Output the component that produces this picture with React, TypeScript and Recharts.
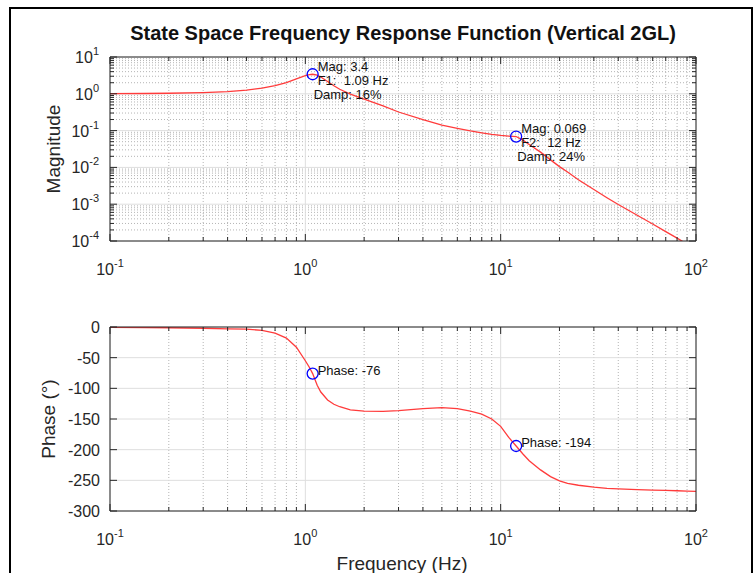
import { ComposedChart, Line, Scatter, XAxis, YAxis, CartesianGrid } from 'recharts'

// frequency grid (Hz)
const freq = [
  0.1, 0.15, 0.2, 0.3, 0.4, 0.5, 0.6, 0.7, 0.8, 0.9, 1.0, 1.05, 1.09, 1.15, 1.2, 1.3, 1.4, 1.5, 1.7, 2, 2.5,
  3, 4, 5, 6, 7, 8, 9, 10, 11, 12, 13, 14, 16, 18, 20, 22, 25, 30, 35, 40, 50, 60, 70, 80, 90, 100,
]
const magnitude = [
  1.01, 1.02, 1.035, 1.08, 1.15, 1.26, 1.42, 1.66, 2.0, 2.55, 3.1, 3.3, 3.4, 3.2, 2.85, 2.15, 1.65, 1.33, 0.98,
  0.72, 0.47, 0.32, 0.2, 0.14, 0.115, 0.098, 0.087, 0.079, 0.074, 0.071, 0.069, 0.055, 0.042, 0.026, 0.016,
  0.0105, 0.0075, 0.0046, 0.0025, 0.0015, 0.00098, 0.0005, 0.00029, 0.00018, 0.00012, 0.000082, 0.000058,
]
const phase = [
  -0.5, -0.8, -1.2, -2, -3, -3.5, -5.5, -10, -18, -33, -55, -66, -76, -95, -106, -119, -126, -130, -135, -137,
  -137.5, -136.5, -133, -131.5, -133, -137, -142, -150, -162, -180, -194, -207, -218, -233, -244, -251, -255,
  -258, -261, -263, -264, -265, -266, -266.5, -267, -267.5, -268,
]

const modeFreq = [1.09, 12]
const modeMag = [3.4, 0.069]
const modePhase = [-76, -194]
const modeText = [
  ['Mag: 3.4', 'F1:  1.09 Hz', 'Damp: 16%'],
  ['Mag: 0.069', 'F2:  12 Hz', 'Damp: 24%'],
]
const phaseText = ['Phase: -76', 'Phase: -194']

const decadeTicks = [0.1, 1, 10, 100]
const freqMinor = [0.2, 0.3, 0.4, 0.5, 0.6, 0.7, 0.8, 0.9, 2, 3, 4, 5, 6, 7, 8, 9, 20, 30, 40, 50, 60, 70, 80, 90]
const magTicks = [1e-4, 1e-3, 1e-2, 1e-1, 1, 10]
const magMinor = [1e-4, 1e-3, 1e-2, 1e-1, 1].flatMap((d) => [2, 3, 4, 5, 6, 7, 8, 9].map((k) => k * d))
const phaseTicks = [-300, -250, -200, -150, -100, -50, 0]

const magData = freq.map((f, i) => ({ f, v: magnitude[i] }))
const phaseData = freq.map((f, i) => ({ f, v: phase[i] }))
const magModes = modeFreq.map((f, i) => ({ f, v: modeMag[i], lines: modeText[i] }))
const phaseModes = modeFreq.map((f, i) => ({ f, v: modePhase[i], lines: [phaseText[i]] }))

const xAll = [...decadeTicks, ...freqMinor].sort((a, b) => a - b)
const magAll = [...magTicks, ...magMinor].sort((a, b) => a - b)

const FONT = '"Liberation Sans", Arial, Helvetica, sans-serif'
const AXIS = '#262626'
const RED = '#ff3b3b'
const BLUE = '#0000ff'

const isMajor = (v: number, majors: number[]) => majors.some((m) => Math.abs(m - v) < Math.abs(m) * 1e-6 + 1e-9)

function Pow10({ x, y, exp, anchor }: { x: number; y: number; exp: number; anchor: 'middle' | 'end' }) {
  return (
    <text x={x} y={y} textAnchor={anchor} fontSize={16} fill={AXIS} fontFamily={FONT}>
      10
      <tspan dy={-8} fontSize={11}>
        {exp}
      </tspan>
    </text>
  )
}

function XTick(props: any) {
  const { x, y, payload, side, label } = props
  const v = payload.value
  const major = isMajor(v, decadeTicks)
  const len = major ? 7 : 4
  const y2 = side === 'bottom' ? y - len : y + len
  return (
    <g>
      <line x1={x} x2={x} y1={y} y2={y2} stroke={AXIS} />
      {label && major ? <Pow10 x={x} y={y + 34} exp={Math.round(Math.log10(v))} anchor="middle" /> : null}
    </g>
  )
}

function MagYTick(props: any) {
  const { x, y, payload, side } = props
  const v = payload.value
  const major = isMajor(v, magTicks)
  const len = major ? 7 : 4
  const x2 = side === 'left' ? x + len : x - len
  return (
    <g>
      <line x1={x} x2={x2} y1={y} y2={y} stroke={AXIS} />
      {side === 'left' && major ? <Pow10 x={x - 11} y={y + 6} exp={Math.round(Math.log10(v))} anchor="end" /> : null}
    </g>
  )
}

function PhaseYTick(props: any) {
  const { x, y, payload, side } = props
  const x2 = side === 'left' ? x + 7 : x - 7
  return (
    <g>
      <line x1={x} x2={x2} y1={y} y2={y} stroke={AXIS} />
      {side === 'left' ? (
        <text x={x - 10} y={y + 6} textAnchor="end" fontSize={16} fill={AXIS} fontFamily={FONT}>
          {payload.value}
        </text>
      ) : null}
    </g>
  )
}

function ModeMarker(props: any) {
  const { cx, cy, payload, offsets } = props
  return (
    <g>
      <circle cx={cx} cy={cy} r={5.5} fill="none" stroke={BLUE} strokeWidth={1.3} />
      {payload.lines.map((t: string, i: number) => (
        <text
          key={i}
          x={cx + offsets[i][0]}
          y={cy + offsets[i][1]}
          dominantBaseline="central"
          fontSize={13}
          fill="#111"
          fontFamily={FONT}
          style={{ whiteSpace: 'pre' }}
        >
          {t}
        </text>
      ))}
    </g>
  )
}

const magOffsets = [
  [5, -8],
  [5, 6],
  [1, 20],
]
const phaseOffsets = [[5, -3]]

const axisLine = { stroke: AXIS, strokeWidth: 1 }

export default function App() {
  return (
    <div style={{ position: 'absolute', left: 0, top: 0, width: 755, height: 573, background: '#fff', overflow: 'hidden' }}>
      <svg width={755} height={573} style={{ position: 'absolute', left: 0, top: 0 }}>
        <rect x={10} y={8} width={742} height={600} fill="none" stroke="#000" strokeWidth={2} />
        <text x={403} y={40} textAnchor="middle" fontSize={20} fontWeight="bold" fill="#111" fontFamily={FONT}>
          State Space Frequency Response Function (Vertical 2GL)
        </text>
        <text
          x={53}
          y={149}
          transform="rotate(-90 53 149)"
          textAnchor="middle"
          dominantBaseline="central"
          fontSize={19}
          fill={AXIS}
          fontFamily={FONT}
        >
          Magnitude
        </text>
        <text
          x={48}
          y={419}
          transform="rotate(-90 48 419)"
          textAnchor="middle"
          dominantBaseline="central"
          fontSize={19}
          fill={AXIS}
          fontFamily={FONT}
        >
          Phase (°)
        </text>
        <text x={402} y={570} textAnchor="middle" fontSize={19} fill={AXIS} fontFamily={FONT}>
          Frequency (Hz)
        </text>
      </svg>

      <div style={{ position: 'absolute', left: 0, top: 0 }}>
        <ComposedChart width={755} height={300} margin={{ top: 56, right: 58, bottom: 19, left: 50 }}>
          <CartesianGrid
            horizontalValues={magMinor}
            verticalValues={freqMinor}
            stroke="#b4b4b4"
            strokeDasharray="1 2"
          />
          <CartesianGrid horizontalValues={magTicks} verticalValues={decadeTicks} stroke="#dedede" />
          <XAxis
            dataKey="f"
            type="number"
            scale="log"
            domain={[0.1, 100]}
            allowDataOverflow
            ticks={xAll}
            interval={0}
            height={40}
            tickSize={0}
            tickMargin={0}
            axisLine={axisLine}
            tickLine={false}
            tick={(p: any) => <XTick {...p} side="bottom" label />}
          />
          <XAxis
            xAxisId="top"
            orientation="top"
            dataKey="f"
            type="number"
            scale="log"
            domain={[0.1, 100]}
            allowDataOverflow
            ticks={xAll}
            interval={0}
            height={1}
            tickSize={0}
            tickMargin={0}
            axisLine={axisLine}
            tickLine={false}
            tick={(p: any) => <XTick {...p} side="top" />}
          />
          <YAxis
            dataKey="v"
            type="number"
            scale="log"
            domain={[1e-4, 10]}
            allowDataOverflow
            ticks={magAll}
            interval={0}
            width={60}
            tickSize={0}
            tickMargin={0}
            axisLine={axisLine}
            tickLine={false}
            tick={(p: any) => <MagYTick {...p} side="left" />}
          />
          <YAxis
            yAxisId="right"
            orientation="right"
            type="number"
            scale="log"
            domain={[1e-4, 10]}
            allowDataOverflow
            ticks={magAll}
            interval={0}
            width={1}
            tickSize={0}
            tickMargin={0}
            axisLine={axisLine}
            tickLine={false}
            tick={(p: any) => <MagYTick {...p} side="right" />}
          />
          <Line
            data={magData}
            xAxisId="top"
            yAxisId="right"
            dataKey="v"
            stroke="none"
            dot={false}
            isAnimationActive={false}
          />
          <Line data={magData} dataKey="v" stroke={RED} strokeWidth={1.3} dot={false} isAnimationActive={false} />
          <Scatter
            data={magModes}
            dataKey="v"
            isAnimationActive={false}
            shape={(p: any) => <ModeMarker {...p} offsets={magOffsets} />}
          />
        </ComposedChart>
      </div>

      <div style={{ position: 'absolute', left: 0, top: 300 }}>
        <ComposedChart width={755} height={273} margin={{ top: 26, right: 58, bottom: 22, left: 50 }}>
          <CartesianGrid horizontal={false} verticalValues={freqMinor} stroke="#b4b4b4" strokeDasharray="1 2" />
          <CartesianGrid horizontalValues={phaseTicks} verticalValues={decadeTicks} stroke="#dedede" />
          <XAxis
            dataKey="f"
            type="number"
            scale="log"
            domain={[0.1, 100]}
            allowDataOverflow
            ticks={xAll}
            interval={0}
            height={40}
            tickSize={0}
            tickMargin={0}
            axisLine={axisLine}
            tickLine={false}
            tick={(p: any) => <XTick {...p} side="bottom" label />}
          />
          <XAxis
            xAxisId="top"
            orientation="top"
            dataKey="f"
            type="number"
            scale="log"
            domain={[0.1, 100]}
            allowDataOverflow
            ticks={xAll}
            interval={0}
            height={1}
            tickSize={0}
            tickMargin={0}
            axisLine={axisLine}
            tickLine={false}
            tick={(p: any) => <XTick {...p} side="top" />}
          />
          <YAxis
            dataKey="v"
            type="number"
            domain={[-300, 0]}
            allowDataOverflow
            ticks={phaseTicks}
            interval={0}
            width={60}
            tickSize={0}
            tickMargin={0}
            axisLine={axisLine}
            tickLine={false}
            tick={(p: any) => <PhaseYTick {...p} side="left" />}
          />
          <YAxis
            yAxisId="right"
            orientation="right"
            type="number"
            domain={[-300, 0]}
            allowDataOverflow
            ticks={phaseTicks}
            interval={0}
            width={1}
            tickSize={0}
            tickMargin={0}
            axisLine={axisLine}
            tickLine={false}
            tick={(p: any) => <PhaseYTick {...p} side="right" />}
          />
          <Line
            data={phaseData}
            xAxisId="top"
            yAxisId="right"
            dataKey="v"
            stroke="none"
            dot={false}
            isAnimationActive={false}
          />
          <Line data={phaseData} dataKey="v" stroke={RED} strokeWidth={1.3} dot={false} isAnimationActive={false} />
          <Scatter
            data={phaseModes}
            dataKey="v"
            isAnimationActive={false}
            shape={(p: any) => <ModeMarker {...p} offsets={phaseOffsets} />}
          />
        </ComposedChart>
      </div>
    </div>
  )
}
